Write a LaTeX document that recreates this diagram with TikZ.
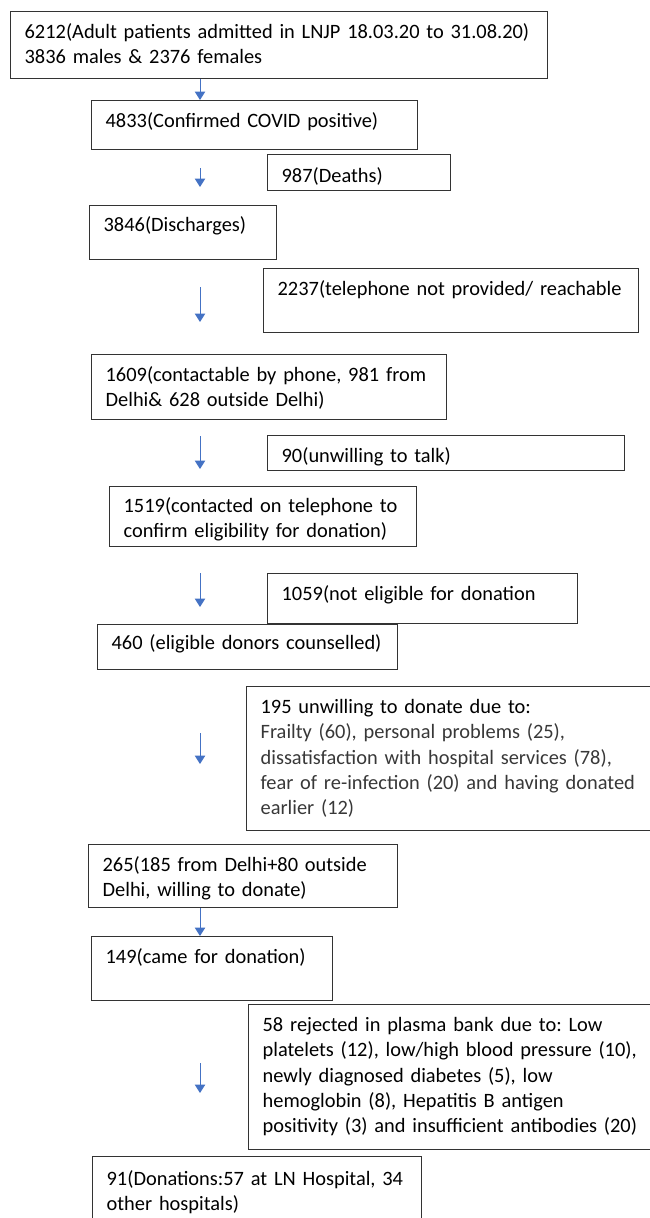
\documentclass[tikz,border=0pt]{standalone}
\usepackage{fontspec}
\setmainfont{Carlito}
\usepackage{xcolor}
\usetikzlibrary{arrows.meta,positioning,calc}
\definecolor{arrowblue}{RGB}{68,114,196}

\begin{document}
\begin{tikzpicture}[x=1pt,y=-1pt]
 \tikzset{box/.style={draw=black!80, line width=1.3pt, anchor=north west, inner xsep=14pt, inner ysep=0pt, align=left, text height=27pt, text=black, font=\fontsize{20.4}{25.3}\selectfont,
    execute at begin node={\frenchspacing\hyphenpenalty=10000\rightskip=0pt plus 1fil minus 100pt}},
  flow/.style={draw=arrowblue, line width=1pt, -{Triangle[width=10.5pt,length=8.5pt]}}};
  \useasboundingbox (0,0) rectangle (649,1218);
  \coordinate (axis) at (200,0);
  % main column
  \node[box, text width=509pt, text depth=40pt] (adm) at (10,11) {6212(Adult patients admitted in LNJP 18.03.20 to 31.08.20)\\3836 males \& 2376 females};
  \node[box, text width=298pt, text depth=22pt] (pos) at (91,100) {4833(Confirmed COVID positive)};
  \node[box, text width=159pt, text depth=28pt, text height=26pt] (dis) at (89,205) {3846(Discharges)};
  \node[box, text width=327pt, text depth=38pt] (ctel) at (91,354) {1609(contactable by phone, 981 from\\Delhi\& 628 outside Delhi)};
  \node[box, text width=279pt, text depth=34pt, text height=26pt] (conf) at (109,486) {1519(contacted on telephone to\\confirm eligibility for donation)};
  \node[box, text width=272pt, text depth=20pt, text height=25pt] (cou) at (97,624) {460 (eligible donors counselled)};
  \node[box, text width=281pt, text depth=36pt] (wil) at (88,844) {265(185 from Delhi+80 outside\\Delhi, willing to donate)};
  \node[box, text width=213pt, text depth=37pt] (came) at (91,936) {149(came for donation)};
  \node[box, text width=301pt, text depth=61pt, text height=29pt] (don) at (92,1156) {91(Donations:57 at LN Hospital, 34\\other hospitals)};
  % exclusions
  \node[box, text width=155pt, text depth=8pt, text height=28pt] (dth) at (267,154) {987(Deaths)};
  \node[box, text width=347pt, text depth=37pt] (ntel) at (263,268) {2237(telephone not provided/ reachable};
  \node[box, text width=329pt, text depth=8pt] (unw) at (267,435) {90(unwilling to talk)};
  \node[box, text width=282pt, text depth=23pt] (nel) at (267,573) {1059(not eligible for donation};
  \node[box, text width=392pt, text depth=117pt] (refu) at (246,686) {195 unwilling to donate due to:\\{\color{black!78}Frailty (60), personal problems (25),\\dissatisfaction with hospital services (78),\\fear of re-infection (20) and having donated\\earlier (12)}};
  \node[box, text width=392pt, text depth=118pt] (rej) at (248,1004) {58 rejected in plasma bank due to: Low\\platelets (12), low/high blood pressure (10),\\newly diagnosed diabetes (5), low\\hemoglobin (8), Hepatitis B antigen\\positivity (3) and insufficient antibodies (20)};
  % arrows
  \coordinate (a2top) at (200,168);  \coordinate (a2bot) at (200,187);
  \coordinate (a3top) at (200,287);  \coordinate (a3bot) at (200,322);
  \coordinate (a4top) at (200,436);  \coordinate (a4bot) at (200,469);
  \coordinate (a5top) at (200,573);  \coordinate (a5bot) at (200,607);
  \coordinate (a6top) at (200,733);  \coordinate (a6bot) at (200,764);
  \coordinate (a8top) at (200,1063); \coordinate (a8bot) at (200,1093);
  \draw[flow] (adm.south -| axis) -- (pos.north -| axis);
  \draw[flow] (a2top) -- (a2bot);
  \draw[flow] (a3top) -- (a3bot);
  \draw[flow] (a4top) -- (a4bot);
  \draw[flow] (a5top) -- (a5bot);
  \draw[flow] (a6top) -- (a6bot);
  \draw[flow] (wil.south -| axis) -- (came.north -| axis);
  \draw[flow] (a8top) -- (a8bot);
\end{tikzpicture}
\end{document}
